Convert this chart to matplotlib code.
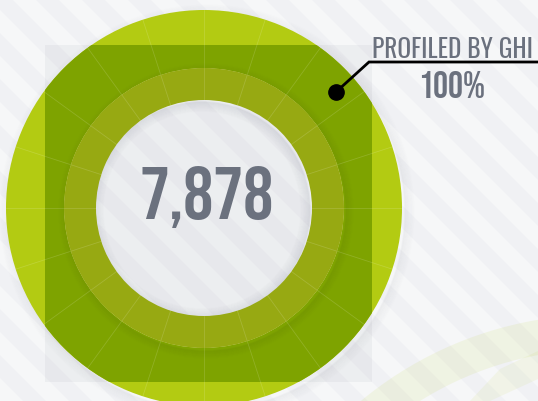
import numpy as np
import matplotlib
matplotlib.use('Agg')
import matplotlib.pyplot as plt
from matplotlib.patches import Rectangle, Circle, Arc, Polygon

# Chart data
profiled_count = 7878
total_count = 7878
shares = [profiled_count, total_count - profiled_count]
count_label = f"{profiled_count:,}"
series_label = "PROFILED BY GHI"
pct_label = f"{100 * profiled_count / total_count:.0f}%"

# Colours
bg_col = '#f0f1f4'
light_green = '#b3cb12'
dark_green = '#7ea300'
olive = '#97a912'
text_col = '#6b717e'

cx, cy = 204, 209
W, H = 538, 402

fig = plt.figure(figsize=(5.38, 4.02), dpi=100)
ax = fig.add_axes([0, 0, 1, 1])
ax.set_xlim(0, W)
ax.set_ylim(H, 0)
ax.axis('off')
fig.patch.set_facecolor(bg_col)

# Diagonal stripes in the background
period = 46
for c in range(-H - period, W + period, period):
    ax.add_patch(Polygon([(c, 0), (c + period / 2, 0), (c + period / 2 + H, H), (c + H, H)],
                         closed=True, facecolor='white', alpha=0.45, lw=0, zorder=0))

# Faint leaf shape bottom right
ax.add_patch(Arc((600, 690), 714, 714, theta1=215, theta2=275, color=light_green,
                 lw=25, alpha=0.09, zorder=0.5))
ax.add_patch(Polygon([(500, 370), (538, 352), (538, 380), (490, 402), (470, 402)],
                     closed=True, facecolor=light_green, alpha=0.07, lw=0, zorder=0.5))

# Gray square behind the donut
ax.add_patch(Rectangle((45, 46), 327, 337, facecolor='#5a6070', alpha=0.06, lw=0, zorder=1))

# Drop shadow of outer ring
for i in range(10):
    ax.add_patch(Circle((cx + 3, cy + 4), 198 + i, facecolor='none', edgecolor='#40454f',
                        lw=1.2, alpha=0.035 * (10 - i) / 10, zorder=1.5))

# Outer ring (light) and darker part inside the square
ring_kw = dict(radius=198, center=(cx, cy), startangle=90, counterclock=False, frame=True)
w_light, _ = ax.pie(shares, colors=[light_green, 'none'],
                    wedgeprops=dict(width=58, lw=0), **ring_kw)
w_dark, _ = ax.pie(shares, colors=[dark_green, 'none'],
                   wedgeprops=dict(width=58, lw=0), **ring_kw)
clip_sq = Rectangle((45, 46), 327, 337, transform=ax.transData)
for w in w_light:
    w.set_zorder(2)
for w in w_dark:
    w.set_zorder(2.1)
    w.set_clip_path(clip_sq)
    w.set_clip_on(True)

# Shadow of inner ring on the dark ring
for i in range(8):
    ax.add_patch(Circle((cx + 2, cy + 3), 140 + i, facecolor='none', edgecolor='#2e3a00',
                        lw=1.2, alpha=0.05 * (8 - i) / 8, zorder=2.2))

# Inner ring
w_in, _ = ax.pie(shares, colors=[olive, 'none'], radius=140, center=(cx, cy), startangle=90,
                 counterclock=False, frame=True, wedgeprops=dict(width=32, lw=0))
for w in w_in:
    w.set_zorder(2.5)

# Inner shadow of the hole
for i in range(10):
    ax.add_patch(Circle((cx - 2, cy + 2), 108 - i, facecolor='none', edgecolor='#50566a',
                        lw=1.2, alpha=0.07 * (10 - i) / 10, zorder=2.4))

# Faint segment dividers
for a in np.arange(0, 360, 18):
    t = np.deg2rad(a)
    ax.plot([cx + 108 * np.sin(t), cx + 198 * np.sin(t)],
            [cy - 108 * np.cos(t), cy - 198 * np.cos(t)],
            color='white', lw=0.6, alpha=0.15, zorder=3)

ax.set_xlim(0, W)
ax.set_ylim(H, 0)
ax.set_aspect('auto')

num_fam = ['Bebas Neue', 'Oswald', 'Barlow Condensed', 'DejaVu Sans']
lab_fam = ['Oswald', 'Barlow Condensed', 'DejaVu Sans']

# Center number
ax.text(207, 219, count_label, ha='center', va='baseline', fontsize=54,
        family=num_fam, color=text_col, zorder=5)

# Annotation
ax.plot([336, 369, W], [93, 63, 63], color='black', lw=2, zorder=5, solid_joinstyle='miter')
ax.plot([336], [93], 'o', color='black', ms=11, zorder=5)
ax.text(372, 58, series_label, ha='left', va='baseline', fontsize=18.3, fontweight='light',
        family=lab_fam, color=text_col, zorder=5)
ax.text(452, 98, pct_label, ha='center', va='baseline', fontsize=27,
        family=num_fam, color=text_col, zorder=5)

fig.savefig('out.png', dpi=100, facecolor=fig.get_facecolor())
